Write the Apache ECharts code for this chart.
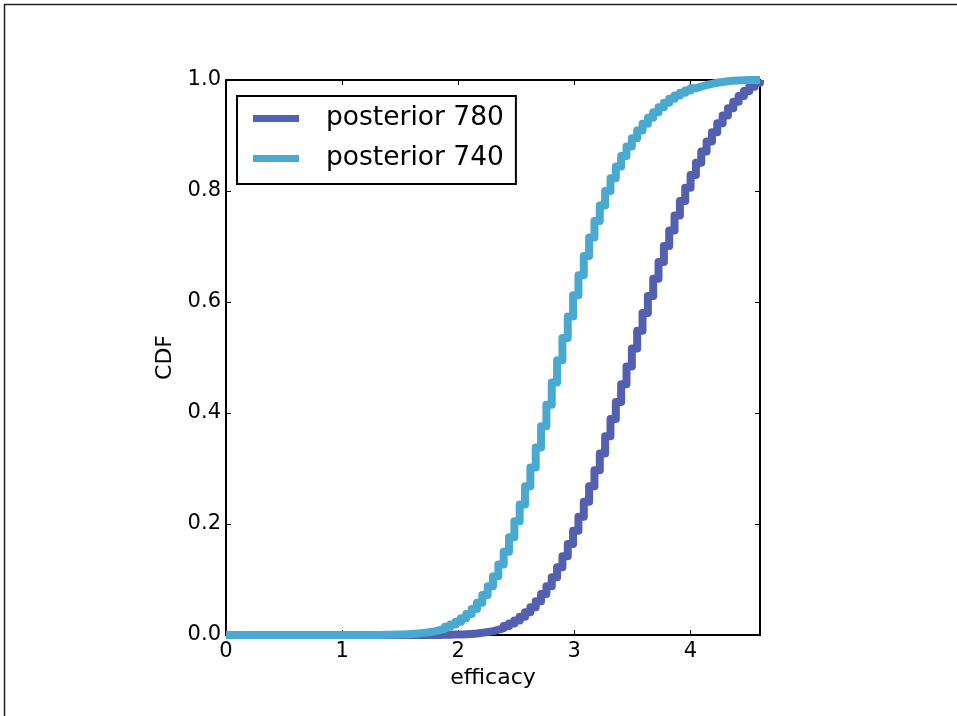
<!DOCTYPE html>
<html>
<head>
<meta charset="utf-8">
<script src="https://cdn.jsdelivr.net/npm/echarts@6/dist/echarts.min.js"></script>
<style>
html,body{margin:0;padding:0;background:#fff;}
#chart{width:957px;height:716px;}
</style>
</head>
<body>
<div id="chart"></div>
<script>
// efficacy grid (x values)
const efficacy = [
0,0.046,0.092,0.138,0.184,0.23,0.276,0.322,0.368,0.414,
0.46,0.506,0.552,0.598,0.644,0.69,0.736,0.782,0.828,0.874,
0.92,0.966,1.012,1.058,1.104,1.15,1.196,1.242,1.288,1.334,
1.38,1.426,1.472,1.518,1.564,1.61,1.656,1.702,1.748,1.794,
1.84,1.886,1.932,1.978,2.024,2.07,2.116,2.162,2.208,2.254,
2.3,2.346,2.392,2.438,2.484,2.53,2.576,2.622,2.668,2.714,
2.76,2.806,2.852,2.898,2.944,2.99,3.036,3.082,3.128,3.174,
3.22,3.266,3.312,3.358,3.404,3.45,3.496,3.542,3.588,3.634,
3.68,3.726,3.772,3.818,3.864,3.91,3.956,4.002,4.048,4.094,
4.14,4.186,4.232,4.278,4.324,4.37,4.416,4.462,4.508,4.554,
4.6];

// CDF of posterior for score 780
const cdf780 = [
0,0,0,0,0,0,0,0,0,0,
0,0,0,0,0,0,0,0,0,0,
0,0,0,0,0,0,0,0,0,0,
0,0,0,0,0,0,0,0,0.0001,0.0002,
0.0003,0.0005,0.0007,0.001,0.0014,0.002,0.0028,0.0039,0.0053,0.0071,
0.0094,0.0123,0.016,0.0205,0.026,0.033,0.041,0.05,0.061,0.074,
0.088,0.104,0.122,0.142,0.164,0.188,0.213,0.24,0.268,0.297,
0.327,0.358,0.389,0.42,0.452,0.484,0.516,0.548,0.58,0.611,
0.642,0.672,0.701,0.729,0.756,0.782,0.806,0.829,0.851,0.871,
0.889,0.906,0.922,0.936,0.949,0.961,0.971,0.98,0.988,0.995,
1];

// CDF of posterior for score 740
const cdf740 = [
0,0,0,0,0,0,0,0,0,0,
0,0,0,0,0,0,0,0,0,0,
0,0,0,0,0,0,0,0,0.0002,0.0003,
0.0005,0.0007,0.001,0.0014,0.002,0.0028,0.0038,0.005,0.0066,0.0087,
0.011,0.015,0.019,0.024,0.03,0.038,0.047,0.058,0.072,0.088,
0.106,0.127,0.15,0.176,0.205,0.235,0.268,0.302,0.338,0.376,
0.415,0.455,0.495,0.535,0.574,0.612,0.648,0.683,0.716,0.746,
0.774,0.8,0.823,0.844,0.863,0.88,0.895,0.909,0.921,0.932,
0.942,0.951,0.959,0.966,0.972,0.977,0.981,0.985,0.988,0.991,
0.993,0.995,0.9965,0.9977,0.9986,0.9992,0.9996,0.9998,0.9999,1,
1];

const seriesNames = ['posterior 780', 'posterior 740'];
const xTicks = [0, 1, 2, 3, 4];
const yTicks = [0.0, 0.2, 0.4, 0.6, 0.8, 1.0];

const FONT = 'DejaVu Sans';
const chart = echarts.init(document.getElementById('chart'), null, {renderer: 'canvas'});

function pairs(xs, ys) { return xs.map((x, i) => [x, ys[i]]); }

const axisLine = {show: true, onZero: false, lineStyle: {color: '#000', width: 2}};
const tick = {show: true, inside: true, length: 5, lineStyle: {color: '#000', width: 1}};

const option = {
  animation: false,
  backgroundColor: '#fff',
  grid: {left: 226, right: 197, top: 80, bottom: 81, show: false},
  xAxis: [
    {
      type: 'value', min: 0, max: 4.6, interval: 1, position: 'bottom',
      axisLine: axisLine, axisTick: tick, splitLine: {show: false},
      axisLabel: {
        show: true, color: '#000', fontSize: 21, fontFamily: FONT, margin: 6,
        showMaxLabel: false,
        formatter: v => xTicks.includes(v) ? String(v) : ''
      },
      name: 'efficacy', nameLocation: 'middle', nameGap: 29,
      nameTextStyle: {color: '#000', fontSize: 22, fontFamily: FONT}
    },
    {
      type: 'value', min: 0, max: 4.6, interval: 1, position: 'top',
      axisLine: axisLine, axisTick: tick, splitLine: {show: false},
      axisLabel: {show: false}
    }
  ],
  yAxis: [
    {
      type: 'value', min: 0, max: 1, interval: 0.2, position: 'left',
      axisLine: axisLine, axisTick: tick, splitLine: {show: false},
      axisLabel: {
        show: true, color: '#000', fontSize: 21, fontFamily: FONT, margin: 5,
        formatter: v => {
          const t = yTicks.find(y => Math.abs(y - v) < 1e-9);
          return t === undefined ? '' : t.toFixed(1);
        }
      },
      name: 'CDF', nameLocation: 'middle', nameGap: 45,
      nameTextStyle: {color: '#000', fontSize: 22, fontFamily: FONT}
    },
    {
      type: 'value', min: 0, max: 1, interval: 0.2, position: 'right',
      axisLine: axisLine, axisTick: tick, splitLine: {show: false},
      axisLabel: {show: false}
    }
  ],
  legend: {
    orient: 'vertical', left: 237, top: 96,
    padding: [9, 12, 12, 16], itemGap: 13,
    itemWidth: 46, itemHeight: 7, icon: 'rect',
    backgroundColor: '#fff', borderColor: '#000', borderWidth: 2,
    textStyle: {color: '#000', fontSize: 26.5, fontFamily: FONT, padding: [0, 0, 0, 22]},
    data: seriesNames
  },
  series: [
    {
      name: seriesNames[0], type: 'line', step: 'end', showSymbol: false, symbol: 'none',
      data: pairs(efficacy, cdf780), color: '#5360b0',
      lineStyle: {width: 8, color: '#5360b0', join: 'round'}, z: 2
    },
    {
      name: seriesNames[1], type: 'line', step: 'end', showSymbol: false, symbol: 'none',
      data: pairs(efficacy, cdf740), color: '#4aa9d0',
      lineStyle: {width: 8, color: '#4aa9d0', join: 'round'}, z: 3
    }
  ],
  graphic: [
    {type: 'line', shape: {x1: 4, y1: 4.5, x2: 957, y2: 4.5}, style: {stroke: '#222', lineWidth: 1.5}},
    {type: 'line', shape: {x1: 4.5, y1: 4, x2: 4.5, y2: 716}, style: {stroke: '#222', lineWidth: 1.5}}
  ]
};
chart.setOption(option);
</script>
</body>
</html>
